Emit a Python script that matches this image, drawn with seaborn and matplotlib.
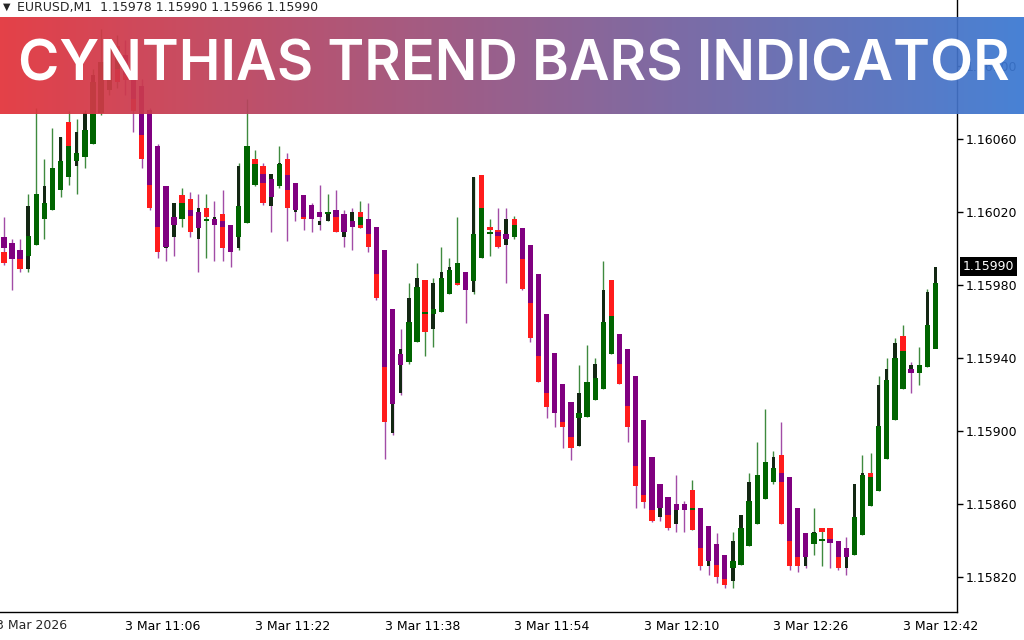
import numpy as np
import pandas as pd
import matplotlib
matplotlib.use("Agg")
import matplotlib.pyplot as plt
import matplotlib.transforms as mtransforms
from matplotlib.colors import LinearSegmentedColormap
import seaborn as sns

# --- EURUSD M1 bars, first visible bar is 10:51 (bar 1) ---
FIRST_BAR = 1

OPEN = [1.15998, 1.16002, 1.15998, 1.15989, 1.16003, 1.16016, 1.16021, 1.16032, 1.16069, 1.16045,
        1.16050, 1.16057, 1.16074, 1.16087, 1.16111, 1.16106, 1.16096, 1.16089, 1.16076, 1.16056,
        1.16000, 1.16006, 1.16029, 1.16027, 1.16005, 1.16022, 1.16015, 1.16019, 1.16012, 1.16000,
        1.16014, 1.16049, 1.16045, 1.16023, 1.16034, 1.16049, 1.16020, 1.16029, 1.16016, 1.16013,
        1.16015, 1.16021, 1.16006, 1.16012, 1.16020, 1.16016, 1.16012, 1.15999, 1.15899, 1.15921,
        1.15938, 1.15949, 1.15983, 1.15956, 1.15965, 1.15975, 1.15988, 1.15985, 1.15976, 1.16040,
        1.16012, 1.16010, 1.16002, 1.16016, 1.16011, 1.16002, 1.15986, 1.15964, 1.15939, 1.15926,
        1.15916, 1.15892, 1.15908, 1.15917, 1.15923, 1.15983, 1.15953, 1.15945, 1.15930, 1.15906,
        1.15886, 1.15853, 1.15864, 1.15849, 1.15859, 1.15868, 1.15858, 1.15826, 1.15838, 1.15832,
        1.15818, 1.15827, 1.15837, 1.15849, 1.15863, 1.15872, 1.15887, 1.15875, 1.15858, 1.15826,
        1.15838, 1.15847, 1.15847, 1.15840, 1.15825, 1.15832, 1.15843, 1.15877, 1.15867, 1.15885,
        1.15906, 1.15952, 1.15934, 1.15932, 1.15935, 1.15978]

HIGH = [1.16017, 1.16005, 1.16005, 1.16030, 1.16077, 1.16049, 1.16066, 1.16061, 1.16075, 1.16071,
        1.16076, 1.16098, 1.16120, 1.16115, 1.16117, 1.16114, 1.16103, 1.16093, 1.16077, 1.16057,
        1.16011, 1.16025, 1.16033, 1.16031, 1.16030, 1.16030, 1.16026, 1.16032, 1.16013, 1.16047,
        1.16082, 1.16054, 1.16047, 1.16041, 1.16056, 1.16052, 1.16036, 1.16029, 1.16025, 1.16035,
        1.16030, 1.16032, 1.16021, 1.16022, 1.16026, 1.16025, 1.16012, 1.15999, 1.15967, 1.15956,
        1.15981, 1.15992, 1.15983, 1.15984, 1.16001, 1.15995, 1.16017, 1.15987, 1.16039, 1.16040,
        1.16016, 1.16022, 1.16022, 1.16018, 1.16011, 1.16002, 1.15986, 1.15964, 1.15943, 1.15926,
        1.15916, 1.15936, 1.15947, 1.15940, 1.15993, 1.15983, 1.15953, 1.15945, 1.15930, 1.15906,
        1.15886, 1.15871, 1.15864, 1.15876, 1.15862, 1.15873, 1.15858, 1.15848, 1.15844, 1.15832,
        1.15845, 1.15854, 1.15877, 1.15894, 1.15912, 1.15889, 1.15905, 1.15875, 1.15858, 1.15844,
        1.15858, 1.15847, 1.15847, 1.15840, 1.15842, 1.15871, 1.15887, 1.15888, 1.15930, 1.15940,
        1.15951, 1.15958, 1.15938, 1.15946, 1.15978, 1.15990]

LOW = [1.15991, 1.15977, 1.15987, 1.15987, 1.16002, 1.16005, 1.16021, 1.16028, 1.16035, 1.16030,
       1.16044, 1.16057, 1.16073, 1.16084, 1.16088, 1.16084, 1.16064, 1.16044, 1.16021, 1.15995,
       1.15993, 1.15996, 1.16012, 1.16006, 1.15987, 1.15995, 1.15993, 1.15993, 1.15990, 1.15999,
       1.16014, 1.16034, 1.16024, 1.16009, 1.16033, 1.16004, 1.16015, 1.16010, 1.16009, 1.16010,
       1.16015, 1.16009, 1.16001, 1.15999, 1.16011, 1.15998, 1.15972, 1.15885, 1.15898, 1.15920,
       1.15937, 1.15949, 1.15941, 1.15946, 1.15965, 1.15975, 1.15980, 1.15959, 1.15975, 1.15995,
       1.15996, 1.16000, 1.15981, 1.16005, 1.15977, 1.15949, 1.15927, 1.15907, 1.15902, 1.15891,
       1.15884, 1.15892, 1.15908, 1.15917, 1.15923, 1.15942, 1.15926, 1.15894, 1.15858, 1.15858,
       1.15850, 1.15851, 1.15846, 1.15845, 1.15845, 1.15846, 1.15824, 1.15821, 1.15817, 1.15814,
       1.15814, 1.15827, 1.15837, 1.15849, 1.15863, 1.15871, 1.15849, 1.15824, 1.15823, 1.15825,
       1.15832, 1.15826, 1.15825, 1.15824, 1.15821, 1.15832, 1.15843, 1.15859, 1.15867, 1.15885,
       1.15906, 1.15923, 1.15921, 1.15925, 1.15935, 1.15966]

CLOSE = [1.15992, 1.15995, 1.15989, 1.16023, 1.16029, 1.16034, 1.16043, 1.16061, 1.16054, 1.16064,
         1.16074, 1.16095, 1.16102, 1.16113, 1.16091, 1.16092, 1.16075, 1.16049, 1.16022, 1.15998,
         1.16003, 1.16025, 1.16021, 1.16009, 1.16022, 1.16017, 1.16017, 1.16000, 1.15999, 1.16045,
         1.16056, 1.16043, 1.16025, 1.16041, 1.16047, 1.16022, 1.16032, 1.16016, 1.16018, 1.16015,
         1.16020, 1.16009, 1.16019, 1.16020, 1.16011, 1.16001, 1.15973, 1.15905, 1.15915, 1.15945,
         1.15973, 1.15984, 1.15954, 1.15981, 1.15987, 1.15990, 1.15980, 1.15978, 1.16039, 1.16022,
         1.16010, 1.16001, 1.16016, 1.16012, 1.15978, 1.15951, 1.15927, 1.15913, 1.15911, 1.15902,
         1.15891, 1.15921, 1.15927, 1.15937, 1.15977, 1.15955, 1.15926, 1.15902, 1.15870, 1.15861,
         1.15851, 1.15862, 1.15847, 1.15859, 1.15857, 1.15846, 1.15826, 1.15840, 1.15820, 1.15816,
         1.15840, 1.15854, 1.15872, 1.15876, 1.15883, 1.15886, 1.15849, 1.15826, 1.15826, 1.15837,
         1.15845, 1.15845, 1.15839, 1.15825, 1.15834, 1.15871, 1.15877, 1.15875, 1.15925, 1.15934,
         1.15948, 1.15942, 1.15936, 1.15936, 1.15976, 1.15990]

# trend bars (smoothed open/close drawn over the candles)
HA_OPEN = [1.16006, 1.16003, 1.15999, 1.15996, 1.16002, 1.16016, 1.16021, 1.16032, 1.16039, 1.16048,
           1.16050, 1.16057, 1.16074, 1.16087, 1.16098, 1.16106, 1.16096, 1.16089, 1.16076, 1.16056,
           1.16034, 1.16017, 1.16016, 1.16021, 1.16020, 1.16015, 1.16016, 1.16015, 1.16013, 1.16006,
           1.16014, 1.16035, 1.16041, 1.16038, 1.16034, 1.16040, 1.16036, 1.16029, 1.16024, 1.16020,
           1.16019, 1.16021, 1.16019, 1.16015, 1.16013, 1.16016, 1.16012, 1.15999, 1.15967, 1.15942,
           1.15938, 1.15949, 1.15964, 1.15964, 1.15965, 1.15975, 1.15981, 1.15987, 1.15982, 1.15995,
           1.16008, 1.16009, 1.16008, 1.16006, 1.16011, 1.16002, 1.15986, 1.15964, 1.15943, 1.15926,
           1.15916, 1.15907, 1.15908, 1.15917, 1.15923, 1.15942, 1.15953, 1.15945, 1.15930, 1.15906,
           1.15886, 1.15871, 1.15864, 1.15860, 1.15860, 1.15857, 1.15858, 1.15848, 1.15838, 1.15832,
           1.15825, 1.15827, 1.15837, 1.15849, 1.15863, 1.15872, 1.15877, 1.15875, 1.15858, 1.15844,
           1.15838, 1.15840, 1.15841, 1.15840, 1.15836, 1.15832, 1.15843, 1.15859, 1.15867, 1.15885,
           1.15906, 1.15923, 1.15934, 1.15932, 1.15935, 1.15945]

HA_CLOSE = [1.16000, 1.15994, 1.15994, 1.16007, 1.16030, 1.16025, 1.16044, 1.16048, 1.16056, 1.16052,
            1.16065, 1.16091, 1.16102, 1.16113, 1.16109, 1.16095, 1.16082, 1.16062, 1.16035, 1.16012,
            1.16001, 1.16013, 1.16025, 1.16018, 1.16011, 1.16016, 1.16013, 1.16012, 1.15998, 1.16023,
            1.16056, 1.16046, 1.16036, 1.16028, 1.16046, 1.16032, 1.16021, 1.16017, 1.16016, 1.16017,
            1.16020, 1.16017, 1.16009, 1.16012, 1.16017, 1.16008, 1.15986, 1.15935, 1.15915, 1.15936,
            1.15960, 1.15979, 1.15965, 1.15967, 1.15984, 1.15988, 1.15992, 1.15977, 1.16008, 1.16022,
            1.16009, 1.16007, 1.16005, 1.16013, 1.15994, 1.15970, 1.15941, 1.15921, 1.15910, 1.15905,
            1.15897, 1.15910, 1.15927, 1.15929, 1.15960, 1.15963, 1.15937, 1.15914, 1.15881, 1.15865,
            1.15857, 1.15858, 1.15854, 1.15857, 1.15857, 1.15858, 1.15836, 1.15829, 1.15827, 1.15819,
            1.15829, 1.15847, 1.15862, 1.15876, 1.15883, 1.15880, 1.15872, 1.15840, 1.15831, 1.15831,
            1.15844, 1.15841, 1.15839, 1.15831, 1.15831, 1.15853, 1.15876, 1.15875, 1.15903, 1.15928,
            1.15940, 1.15944, 1.15932, 1.15936, 1.15958, 1.15981]

TIME_TICK_BARS = [0, 16, 32, 48, 64, 80, 96, 112]
TIME_TICK_LABELS = ["3 Mar 2026", "3 Mar 11:06", "3 Mar 11:22", "3 Mar 11:38",
                    "3 Mar 11:54", "3 Mar 12:10", "3 Mar 12:26", "3 Mar 12:42"]
PRICE_TICKS = [1.15820, 1.15860, 1.15900, 1.15940, 1.15980, 1.16020, 1.16060, 1.16100]

SYMBOL = "EURUSD,M1"
LAST_PRICE = 1.15990
BANNER_TEXT = "CYNTHIAS TREND BARS INDICATOR"

# --- colours ---
BULL_BODY = "#132713"
BEAR_BODY = "#ff1c1c"
UP_TREND = "#006400"
DOWN_TREND = "#800080"
UP_WICK = "#3f8a3f"
DOWN_WICK = "#a24ca6"


def build_frame():
    df = pd.DataFrame({
        "open": OPEN, "high": HIGH, "low": LOW, "close": CLOSE,
        "ha_open": HA_OPEN, "ha_close": HA_CLOSE,
    })
    df["bar"] = np.arange(FIRST_BAR, FIRST_BAR + len(df))
    df["bull"] = df["close"] >= df["open"]
    df["trend_up"] = df["ha_close"] >= df["ha_open"]
    return df


def draw_chart(df):
    sns.set_theme(style="white")
    plt.rcParams["font.family"] = ["DejaVu Sans"]

    fig = plt.figure(figsize=(10.24, 6.4), dpi=100)
    ax = fig.add_axes([0, 28 / 640, 957 / 1024, 612 / 640])
    ax.set_facecolor("white")

    min_h = 0.6e-5

    # wicks
    wick_col = np.where(df["trend_up"], UP_WICK, DOWN_WICK)
    ax.vlines(df["bar"], df["low"], df["high"], colors=wick_col, lw=1.0, zorder=1)

    # real candle bodies
    body_lo = np.minimum(df["open"], df["close"])
    body_h = np.maximum(np.abs(df["close"] - df["open"]), min_h)
    body_col = np.where(df["bull"], BULL_BODY, BEAR_BODY)
    body_w = np.where(df["bull"], 0.42, 0.66)
    ax.bar(df["bar"], body_h, bottom=body_lo, width=body_w, color=body_col,
           linewidth=0, zorder=2)

    # trend bars on top
    ha_lo = np.minimum(df["ha_open"], df["ha_close"])
    ha_h = np.maximum(np.abs(df["ha_close"] - df["ha_open"]), min_h)
    ha_col = np.where(df["trend_up"], UP_TREND, DOWN_TREND)
    ax.bar(df["bar"], ha_h, bottom=ha_lo, width=0.66, color=ha_col,
           linewidth=0, zorder=3)

    ax.set_xlim(0.52, 118.67)
    ax.set_ylim(1.15801, 1.16136)

    sns.despine(ax=ax, left=True, top=True, right=False, bottom=False)
    for side in ("right", "bottom"):
        ax.spines[side].set_color("black")
        ax.spines[side].set_linewidth(1.0)

    ax.yaxis.tick_right()
    ax.set_yticks(PRICE_TICKS)
    ax.set_yticklabels([f"{p:.5f}" for p in PRICE_TICKS])
    ax.set_xticks(TIME_TICK_BARS[1:])
    ax.set_xticklabels(TIME_TICK_LABELS[1:])
    ax.tick_params(axis="both", direction="out", length=4, width=1, color="black",
                   labelsize=9, labelcolor="black", pad=2)
    for lbl in ax.get_xticklabels():
        lbl.set_ha("left")
    ax.grid(False)

    # first date label sits left of the visible window (cut by the edge)
    xtrans = mtransforms.blended_transform_factory(ax.transData, ax.transAxes)
    ax.text(TIME_TICK_BARS[0], -0.012, TIME_TICK_LABELS[0], transform=xtrans,
            ha="left", va="top", fontsize=9, clip_on=False)

    # last price marker on the price scale
    ytrans = mtransforms.blended_transform_factory(ax.transAxes, ax.transData)
    ax.text(1.006, LAST_PRICE, f"{LAST_PRICE:.5f}", transform=ytrans, ha="left",
            va="center", fontsize=9, color="white", clip_on=False, zorder=5,
            bbox=dict(facecolor="black", edgecolor="none", pad=2.2))

    # header line
    fig.text(3 / 1024, 1 - 7 / 640, "\u25bc", fontsize=7, va="center", ha="left")
    fig.text(17 / 1024, 1 - 7 / 640,
             f"{SYMBOL}  {OPEN[-1]:.5f} {HIGH[-1]:.5f} {LOW[-1]:.5f} {CLOSE[-1]:.5f}",
             fontsize=9, va="center", ha="left")

    # gradient banner
    bax = fig.add_axes([0, 1 - 114 / 640, 1, 97 / 640])
    cmap = LinearSegmentedColormap.from_list("banner", ["#e2323a", "#3a78d2"])
    grad = np.linspace(0, 1, 512).reshape(1, -1)
    bax.imshow(grad, aspect="auto", cmap=cmap, alpha=0.93, extent=(0, 1, 0, 1))
    bax.set_xlim(0, 1)
    bax.set_ylim(0, 1)
    bax.axis("off")
    title = bax.text(18 / 1024, 0.5, BANNER_TEXT, color="white", ha="left", va="center",
                     fontsize=40, fontweight="semibold",
                     family=["Inter", "DejaVu Sans"])
    # fit the title width to the banner
    renderer = fig.canvas.get_renderer()
    w = title.get_window_extent(renderer).width
    title.set_fontsize(40 * 992 / w)

    return fig


if __name__ == "__main__":
    df = build_frame()
    fig = draw_chart(df)
    fig.savefig("out.png", dpi=100)
